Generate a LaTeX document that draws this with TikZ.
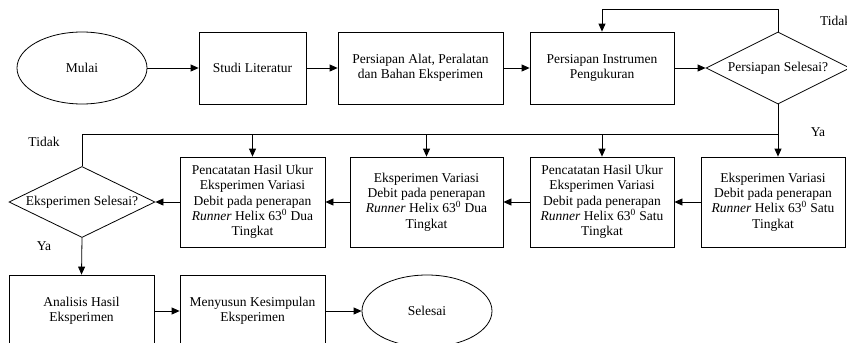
\documentclass[tikz,border=0pt]{standalone}
\usepackage{fontspec}
\setmainfont{Liberation Serif}
\usetikzlibrary{shapes.geometric,arrows.meta}
\begin{document}
\begin{tikzpicture}[x=1pt,y=-1pt,
  base/.style={draw,line width=0.8pt,inner sep=0pt,align=center,font=\fontsize{13.5}{15.3}\selectfont},
  box/.style={base,rectangle},
  oval/.style={base,ellipse,minimum width=130pt,minimum height=72pt},
  dec/.style={draw,line width=0.8pt,diamond,inner sep=0pt,minimum width=144pt,minimum height=72pt},
  lbl/.style={font=\fontsize{13.5}{15.3}\selectfont,inner sep=0pt},
  arr/.style={line width=0.8pt,-{Triangle[length=8pt,width=7pt]}},
  ln/.style={line width=0.8pt}]
\clip (0,0) rectangle (847,343);
% row 1
\node[oval] (mulai) at (82,68) {Mulai};
\node[box,minimum width=107pt,minimum height=72pt] (studi) at (252.5,68) {Studi Literatur};
\node[box,minimum width=165pt,minimum height=72pt] (alat) at (420.5,68) {Persiapan Alat, Peralatan\\dan Bahan Eksperimen};
\node[box,minimum width=144pt,minimum height=72pt] (instr) at (602,68) {Persiapan Instrumen\\Pengukuran};
\node[dec,label={[lbl]center:Persiapan Selesai?}] (cek1) at (778,68) {};
% row 2
\node[box,minimum width=144pt,minimum height=90pt] (eks1) at (773,202) {Eksperimen Variasi\\Debit pada penerapan\\\textit{Runner} Helix 63\textsuperscript{0} Satu\\Tingkat};
\node[box,minimum width=144pt,minimum height=90pt] (pc1) at (602,202) {Pencatatan Hasil Ukur\\Eksperimen Variasi\\Debit pada penerapan\\\textit{Runner} Helix 63\textsuperscript{0} Satu\\Tingkat};
\node[box,minimum width=153pt,minimum height=90pt] (eks2) at (426.5,202) {Eksperimen Variasi\\Debit pada penerapan\\\textit{Runner} Helix 63\textsuperscript{0} Dua\\Tingkat};
\node[box,minimum width=145pt,minimum height=90pt] (pc2) at (252.5,202) {Pencatatan Hasil Ukur\\Eksperimen Variasi\\Debit pada penerapan\\\textit{Runner} Helix 63\textsuperscript{0} Dua\\Tingkat};
\node[dec,minimum width=146pt,minimum height=71pt,label={[lbl]center:Eksperimen Selesai?}] (cek2) at (82,202) {};
% row 3
\node[box,minimum width=145pt,minimum height=72pt] (anal) at (81.5,311) {Analisis Hasil\\Eksperimen};
\node[box,minimum width=145pt,minimum height=72pt] (meny) at (252.5,311) {Menyusun Kesimpulan\\Eksperimen};
\node[oval] (selesai) at (427,311) {Selesai};
% labels
\node[lbl,anchor=west] (tidak1) at (820,21) {Tidak};
\node[lbl] (ya1) at (818,132) {Ya};
\node[lbl] (tidak2) at (44,142) {Tidak};
\node[lbl] (ya2) at (44,246) {Ya};
% connectors row 1
\draw[arr] (mulai) -- (studi);
\draw[arr] (studi) -- (alat);
\draw[arr] (alat) -- (instr);
\draw[arr] (instr) -- (cek1);
\coordinate (loop) at (778,9);
\draw[arr] (cek1.north) -- (loop) -| (instr.north);
% bus
\coordinate (busR) at (778,134);
\coordinate (busL) at (82,134);
\draw[ln] (cek2.north) -- (busL) -- (busR);
\draw[arr] (cek1.south) -- (cek1.south |- eks1.north);
\draw[arr] (pc1.north |- busR) -- (pc1.north);
\draw[arr] (eks2.north |- busR) -- (eks2.north);
\draw[arr] (pc2.north |- busR) -- (pc2.north);
% row 2
\draw[arr] (eks1) -- (pc1);
\draw[arr] (pc1) -- (eks2);
\draw[arr] (eks2) -- (pc2);
\draw[arr] (pc2) -- (cek2.east);
\draw[arr] (cek2.south) -- (anal.north);
% row 3
\draw[arr] (anal) -- (meny);
\draw[arr] (meny) -- (selesai);
\end{tikzpicture}
\end{document}
